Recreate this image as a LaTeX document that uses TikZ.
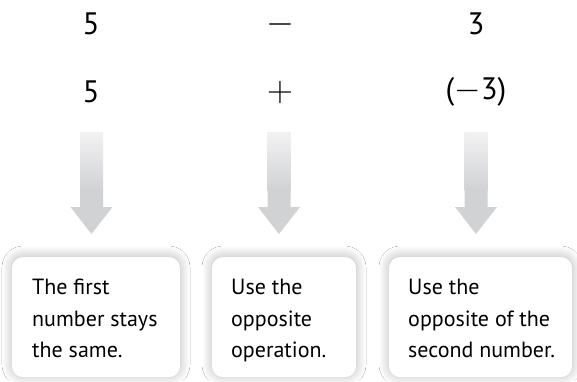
\RequirePackage{fix-cm}
\documentclass[tikz,border=0pt]{standalone}
\usepackage{fontspec}
\setmainfont{PT Sans}
\usetikzlibrary{shadows.blur}
\definecolor{arrgray}{RGB}{209,210,212}
\definecolor{arrtop}{RGB}{242,242,243}
\tikzset{
  num/.style={font=\fontsize{31}{31}\selectfont, anchor=center, inner sep=0pt},
  op/.style={font=\fontsize{36}{36}\selectfont, anchor=center, inner sep=0pt},
  infobox/.style={draw=none, fill=white, rounded corners=11pt,
    blur shadow={shadow xshift=0pt, shadow yshift=1pt, shadow blur radius=10pt, shadow blur steps=16, shadow opacity=28}},
  boxtext/.style={anchor=north west, inner sep=0pt, align=left,
    font=\fontsize{22}{31.5}\selectfont},
}
\newcommand{\downarrowshape}[1]{%
  \shade[top color=arrtop, bottom color=arrgray, shading angle=0]
    ({#1-11.5},132) rectangle ({#1+11.5},190);
  \fill[arrgray] ({#1-11.5},189) -- ({#1+11.5},189) -- ({#1+11.5},207) -- ({#1+21},207)
    -- (#1,234) -- ({#1-21},207) -- ({#1-11.5},207) -- cycle;
}
\begin{document}
\begin{tikzpicture}[x=1pt,y=-1pt]
\useasboundingbox[fill=white] (0,0) rectangle (577,381);
% top rows
\node[num] (a1) at (91,24) {5};
\node[op] (b1) at (280,24) {$-$};
\node[num] (c1) at (476,24) {3};
\node[num] (a2) at (91,92) {5};
\node[op] (b2) at (280,92) {$+$};
\node[num] (c2) at (476,92) {({\fontsize{34}{34}\selectfont$-$}3)};
% arrows
\downarrowshape{91.5}
\downarrowshape{279}
\downarrowshape{476}
% boxes
\path[infobox] (12,257) rectangle (180,377);
\path[infobox] (212,257) rectangle (356,377);
\path[infobox] (389,257) rectangle (572,377);
\node[boxtext] (t1) at (32,279) {The first\\number stays\\the same.};
\node[boxtext] (t2) at (231,279) {Use the\\opposite\\operation.};
\node[boxtext] (t3) at (408,279) {Use the\\opposite of the\\second number.};
\end{tikzpicture}
\end{document}
